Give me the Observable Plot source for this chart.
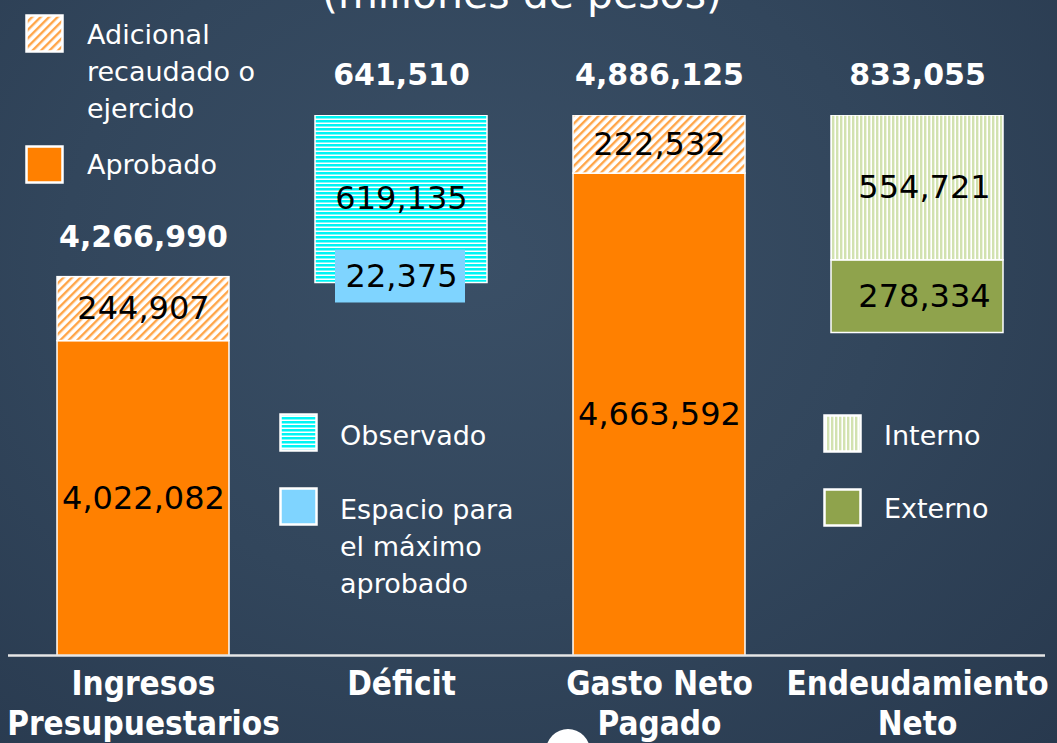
<!DOCTYPE html>
<html>
<head>
<meta charset="utf-8">
<script src="https://cdn.jsdelivr.net/npm/d3@7"></script>
<script src="https://cdn.jsdelivr.net/npm/@observablehq/plot@0.6"></script>
<style>
  html, body { margin: 0; padding: 0; }
  body {
    width: 1057px; height: 743px; overflow: hidden; position: relative;
    background: radial-gradient(ellipse at 45% 35%, #3a4f66 0%, #32465c 50%, #28394e 100%);
    font-family: "DejaVu Sans", sans-serif;
  }
  #chart { position: absolute; left: 0; top: 0; }
  .title { position: absolute; left: 0; width: 1044px; top: -27px; text-align: center;
    color: #fff; font-size: 41px; line-height: 42px; }
  .leg { position: absolute; }
  .legtext { position: absolute; color: #fff; font-size: 27px; line-height: 37px; white-space: nowrap; }
  .dot { position: absolute; left: 546px; top: 729px; width: 44px; height: 44px; border-radius: 50%; background: #fff; }
</style>
</head>
<body>
<svg width="0" height="0" style="position:absolute">
  <defs>
    <pattern id="hatchOrange" width="6" height="6" patternUnits="userSpaceOnUse" patternTransform="rotate(45)">
      <rect width="6" height="6" fill="#ffffff"/>
      <rect width="2.4" height="6" fill="#ffa548"/>
    </pattern>
    <pattern id="stripeCyan" width="4" height="4" patternUnits="userSpaceOnUse">
      <rect width="4" height="4" fill="#ffffff"/>
      <rect width="4" height="2.5" fill="#00f4f4"/>
    </pattern>
    <pattern id="stripeGreen" width="4" height="4" patternUnits="userSpaceOnUse">
      <rect width="4" height="4" fill="#ffffff"/>
      <rect width="2.4" height="4" fill="#d2e2b0"/>
    </pattern>
  </defs>
</svg>
<div class="title">(millones de pesos)</div>
<div id="chart"></div>
<div class="dot"></div>
<script>
// ---- data ----
const categories = ["Ingresos Presupuestarios", "Déficit", "Gasto Neto Pagado", "Endeudamiento Neto"];
const tickLabels = ["Ingresos\nPresupuestarios", "Déficit", "Gasto Neto\nPagado", "Endeudamiento\nNeto"];
const totals = [4266990, 641510, 4886125, 833055];

const ingresosAprobado = 4022082;
const ingresosAdicional = 244907;
const deficitObservado = 619135;
const deficitEspacio = 22375;
const gastoAprobado = 4663592;
const gastoAdicional = 222532;
const endeudamientoInterno = 554721;
const endeudamientoExterno = 278334;

const kinds = ["Aprobado", "Adicional recaudado o ejercido", "Observado", "Espacio para el máximo aprobado", "Interno", "Externo"];
const kindFills = ["#ff8000", "url(#hatchOrange)", "url(#stripeCyan)", "#7fd4ff", "url(#stripeGreen)", "#8fa34c"];

const yDomain = [2817925, 4886125];

// ---- derived layout from values ----
const fillOf = k => kindFills[kinds.indexOf(k)];
const gastoTop = totals[2];
const deficitBase = gastoTop - totals[1];
const endeudBase = gastoTop - totals[3];
const segments = [
  {cat: categories[0], kind: kinds[0], y1: 0, y2: ingresosAprobado, value: ingresosAprobado},
  {cat: categories[0], kind: kinds[1], y1: ingresosAprobado, y2: ingresosAprobado + ingresosAdicional, value: ingresosAdicional},
  {cat: categories[1], kind: kinds[2], y1: deficitBase, y2: gastoTop, value: deficitObservado},
  {cat: categories[2], kind: kinds[0], y1: 0, y2: gastoAprobado, value: gastoAprobado},
  {cat: categories[2], kind: kinds[1], y1: gastoAprobado, y2: gastoTop, value: gastoAdicional},
  {cat: categories[3], kind: kinds[5], y1: endeudBase, y2: endeudBase + endeudamientoExterno, value: endeudamientoExterno},
  {cat: categories[3], kind: kinds[4], y1: endeudBase + endeudamientoExterno, y2: gastoTop, value: endeudamientoInterno}
].map(d => ({...d, fill: fillOf(d.kind), mid: (Math.max(d.y1, yDomain[0]) + d.y2) / 2}));
const espacio = [{cat: categories[1], y1: deficitBase, y2: deficitBase + deficitEspacio, value: deficitEspacio, fill: fillOf(kinds[3])}];
const tops = categories.map(c => d3.max(segments.filter(s => s.cat === c), s => s.y2));
const totalRows = categories.map((c, i) => ({cat: c, y: tops[i], value: totals[i]}));
const fmt = d3.format(",");
const numFont = "DejaVu Sans, sans-serif";
const isEnd = d => d.cat === categories[3];

const chart = Plot.plot({
  width: 1057, height: 743,
  marginTop: 115, marginBottom: 88, marginLeft: 55, marginRight: 52,
  x: {domain: categories, paddingInner: 0.332, paddingOuter: 0, axis: null},
  y: {domain: yDomain, axis: null},
  color: {type: "identity"},
  style: {background: "transparent", overflow: "visible", color: "white"},
  marks: [
    Plot.barY(segments, {x: "cat", y1: "y1", y2: "y2", fill: "fill", stroke: "white", strokeWidth: 1.5, clip: true}),
    Plot.barY(espacio, {x: "cat", y1: "y1", y2: "y2", fill: "fill", insetTop: -27, insetBottom: -20, insetLeft: 20, insetRight: 22}),
    Plot.ruleY([yDomain[0]], {stroke: "#e6e6e6", strokeWidth: 2.5, insetLeft: -47, insetRight: -40}),
    Plot.text(segments.filter(d => !isEnd(d)), {x: "cat", y: "mid", text: d => fmt(d.value), fill: "black", fontSize: 32, fontFamily: numFont}),
    Plot.text(segments.filter(isEnd), {x: "cat", y: "mid", text: d => fmt(d.value), fill: "black", fontSize: 32, fontFamily: numFont, dx: 7}),
    Plot.text(espacio, {x: "cat", y: d => (d.y1 + d.y2) / 2, text: d => fmt(d.value), fill: "black", fontSize: 32, fontFamily: numFont, dy: -3}),
    Plot.text(totalRows, {x: "cat", y: "y", text: d => fmt(d.value), dy: -40, fill: "white", fontSize: 30, fontWeight: "bold", fontFamily: numFont}),
    Plot.text(categories, {x: d => d, text: (d, i) => tickLabels[i], frameAnchor: "bottom", lineAnchor: "top", dy: 11,
      fill: "white", fontSize: 33, fontWeight: "bold", lineHeight: 1.21, fontFamily: "DejaVu Sans Condensed, DejaVu Sans, sans-serif"})
  ]
});
document.getElementById("chart").appendChild(chart);

// ---- legends ----
const legendItems = [
  {kind: kinds[1], lines: ["Adicional", "recaudado o", "ejercido"], sx: 25, sy: 14, tx: 87, ty: 16},
  {kind: kinds[0], lines: ["Aprobado"], sx: 25, sy: 145, tx: 87, ty: 146},
  {kind: kinds[2], lines: ["Observado"], sx: 279, sy: 413, tx: 340, ty: 417},
  {kind: kinds[3], lines: ["Espacio para", "el máximo", "aprobado"], sx: 279, sy: 487, tx: 340, ty: 491},
  {kind: kinds[4], lines: ["Interno"], sx: 823, sy: 414, tx: 884, ty: 417},
  {kind: kinds[5], lines: ["Externo"], sx: 823, sy: 488, tx: 884, ty: 490}
];
for (const it of legendItems) {
  const sw = document.createElementNS("http://www.w3.org/2000/svg", "svg");
  sw.setAttribute("width", 40); sw.setAttribute("height", 40);
  sw.setAttribute("class", "leg");
  sw.style.left = it.sx + "px"; sw.style.top = it.sy + "px";
  sw.innerHTML = `<rect x="1.5" y="1.5" width="36" height="36" fill="${fillOf(it.kind)}" stroke="white" stroke-width="2.5"/>`;
  document.body.appendChild(sw);
  const t = document.createElement("div");
  t.className = "legtext";
  t.style.left = it.tx + "px"; t.style.top = it.ty + "px";
  t.innerHTML = it.lines.join("<br>");
  document.body.appendChild(t);
}
</script>
</body>
</html>
